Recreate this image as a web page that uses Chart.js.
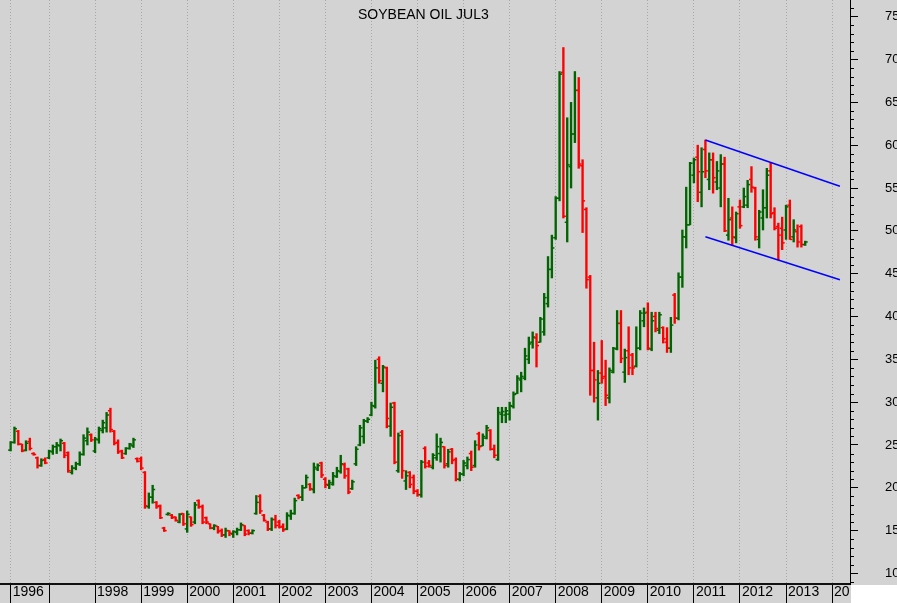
<!DOCTYPE html>
<html>
<head>
<meta charset="utf-8">
<script src="https://cdn.jsdelivr.net/npm/chart.js@4.4.0/dist/chart.umd.min.js"></script>
<style>
html,body{margin:0;padding:0;background:#ffffff;overflow:hidden}
#wrap{width:897px;height:603px;position:relative}
canvas{display:block}
</style>
</head>
<body>
<div id="wrap"><canvas id="c" width="897" height="603"></canvas></div>
<script>
// ---------------- data (monthly OHLC, Mar 1996 .. Jun 2013) ----------------
const chartTitle = 'SOYBEAN OIL JUL3';
const firstYear = 1996;
const firstMonth = 3;

const opens = [
  24.4,25.3,26.6,25.1,24.4,25.4,24.0,23.5,22.6,23.3,
  23.5,24.2,24.8,24.9,25.2,24.1,21.8,22.3,22.8,23.9,25.5,26.2,
  24.3,25.6,26.7,27.0,29.0,26.6,25.3,24.3,24.0,24.6,24.9,23.4,
  23.4,21.8,17.8,18.9,18.3,17.9,15.3,16.9,16.8,16.6,16.0,17.0,
  15.2,16.6,16.0,18.5,17.8,16.5,15.8,15.3,15.5,15.0,14.5,15.0,
  14.6,14.8,15.1,15.6,15.0,14.7,17.0,19.0,16.8,16.0,15.2,16.3,
  16.0,15.5,15.2,16.7,17.0,19.1,18.9,20.0,20.4,19.8,22.2,22.9,
  21.0,20.3,20.4,21.3,21.9,22.7,22.2,19.9,22.8,25.0,26.0,27.8,
  28.5,29.5,35.0,32.2,34.0,27.2,29.9,22.0,26.5,20.8,21.8,21.2,
  19.6,19.2,24.6,22.9,22.4,23.5,24.0,24.8,22.8,24.5,23.3,21.0,
  21.6,22.6,24.0,22.6,26.3,24.9,25.8,26.7,24.5,23.3,28.6,28.5,
  28.6,29.5,31.0,32.6,32.8,35.0,37.0,37.5,37.0,38.2,41.5,45.5,
  49.2,53.8,68.5,51.0,57.5,61.3,66.4,57.6,52.5,44.6,33.7,30.5,
  33.4,33.0,30.5,33.5,36.2,39.2,33.5,36.0,35.5,34.2,36.3,39.5,
  40.5,36.2,40.0,38.4,38.7,37.0,36.3,42.5,39.8,44.6,49.3,50.7,
  56.5,58.6,54.5,59.5,56.0,58.3,55.7,55.0,57.8,49.5,51.5,49.2,
  52.8,52.8,53.0,56.0,55.0,49.0,51.5,52.7,57.0,52.1,50.5,50.3,
  50.1,53.0,49.3,49.9,50.5,48.4
];
const highs = [
  25.4,27.1,26.7,25.1,25.5,25.8,24.1,23.6,23.4,23.5,
  24.4,25.0,25.3,25.7,25.3,24.2,22.6,23.0,24.2,26.2,27.0,26.3,
  25.9,27.1,27.9,28.8,29.3,26.7,25.6,24.4,24.7,25.2,25.8,23.5,
  23.6,21.9,19.4,20.3,18.4,18.0,15.4,17.1,16.9,16.6,17.0,17.0,
  17.3,16.6,18.3,18.6,18.0,16.6,15.8,15.7,15.5,15.2,15.3,15.0,
  15.0,15.3,15.9,15.6,15.1,15.1,19.1,19.2,16.9,16.1,16.5,16.8,
  16.2,15.8,17.1,17.4,18.8,19.2,20.3,21.5,20.5,22.9,22.8,23.0,
  21.2,20.9,21.8,22.4,23.8,22.9,22.3,20.9,24.8,27.3,28.0,28.2,
  30.0,34.9,35.3,34.3,34.1,29.9,30.0,26.4,26.7,22.0,21.9,21.5,
  19.8,23.2,24.8,23.2,24.0,26.3,25.8,24.8,24.5,24.6,23.5,21.8,
  23.2,23.6,24.3,25.5,26.5,26.3,27.3,26.8,25.0,29.4,29.4,29.4,
  30.0,31.2,33.1,33.5,36.3,37.6,38.2,38.0,39.9,42.7,47.0,49.5,
  54.0,68.6,71.4,63.2,65.0,68.6,67.9,58.3,52.7,44.8,37.0,33.7,
  37.2,34.9,34.0,36.4,40.7,40.7,36.2,38.8,35.7,38.8,40.7,41.0,
  41.6,40.5,40.5,40.5,38.8,38.7,39.9,42.7,45.1,50.1,55.1,58.0,
  58.5,60.0,59.7,60.6,59.1,59.1,58.1,58.9,58.6,53.8,52.8,52.2,
  53.6,55.0,55.9,57.5,55.1,52.4,54.8,57.3,57.9,52.7,50.9,51.6,
  53.0,53.6,51.3,50.7,50.7,48.8
];
const lows = [
  24.3,25.2,25.0,24.2,24.3,24.4,23.8,22.3,22.5,22.8,
  23.4,23.9,24.0,24.3,23.5,21.8,21.6,22.1,22.6,23.8,25.0,25.4,
  24.1,25.2,26.4,26.5,26.5,25.0,24.0,23.4,23.9,24.5,24.7,23.0,
  22.1,17.6,17.6,18.2,17.6,16.4,14.9,16.8,16.4,16.1,15.9,15.6,
  14.8,15.5,15.8,17.6,15.8,15.8,15.2,15.1,14.7,14.3,14.2,14.4,
  14.2,14.5,15.0,14.4,14.5,14.6,16.9,17.0,16.1,15.0,15.0,15.3,
  15.3,14.9,15.1,16.3,16.9,18.7,18.5,20.0,19.7,19.4,22.0,21.2,
  20.0,19.9,20.3,21.2,21.7,21.1,19.3,19.8,22.6,24.9,25.2,27.6,
  28.4,29.3,32.2,31.2,27.0,26.0,22.8,21.8,21.1,19.8,20.0,19.3,
  19.0,18.9,22.3,22.4,22.2,23.2,23.0,22.3,22.4,22.8,20.8,20.8,
  21.4,22.2,22.0,22.4,24.4,24.9,25.7,24.4,23.5,23.2,27.6,27.6,
  27.9,29.3,31.0,31.2,32.6,34.5,36.3,34.1,37.0,37.8,41.1,44.5,
  49.0,53.5,51.5,48.7,55.0,60.3,57.3,49.8,43.3,30.8,30.0,27.9,
  32.2,29.6,29.9,33.4,36.1,34.6,32.3,33.2,33.2,34.1,36.1,38.8,
  36.1,36.0,38.2,38.0,36.9,35.8,35.8,39.2,39.6,43.4,48.0,50.7,
  55.6,53.4,52.8,56.2,54.8,54.4,54.8,52.8,49.9,48.9,48.3,48.6,
  50.3,52.7,52.7,54.5,48.9,48.0,50.1,51.5,51.5,50.1,46.6,47.8,
  49.0,49.0,48.7,48.1,48.1,48.3
];
const closes = [
  25.3,26.9,25.1,24.3,25.2,24.6,23.9,22.6,23.2,22.9,
  24.3,24.8,25.0,25.5,23.8,22.0,22.3,22.8,23.9,25.8,26.5,25.6,
  25.7,26.9,27.6,28.5,26.8,25.2,24.2,23.5,24.6,25.1,25.6,23.1,
  22.3,17.9,18.9,19.8,17.8,16.5,15.0,17.0,16.5,16.2,16.9,15.8,
  16.9,15.7,18.0,17.8,16.0,16.0,15.3,15.6,14.9,14.5,15.0,14.7,
  14.9,15.1,15.7,14.6,14.7,15.0,18.3,17.3,16.2,15.2,16.3,15.6,
  15.4,15.1,16.8,17.0,18.5,18.9,20.0,21.2,19.9,22.4,22.6,21.5,
  20.4,20.6,21.4,22.0,22.8,21.4,19.5,20.7,24.5,27.0,27.8,28.0,
  29.6,34.0,32.5,34.1,28.1,29.4,23.0,26.1,22.0,21.4,20.4,19.6,
  19.2,23.0,22.5,22.6,23.8,24.8,25.3,22.6,24.2,23.2,21.0,21.6,
  22.9,23.3,22.4,25.0,24.8,26.0,27.0,24.5,23.8,28.8,28.9,29.0,
  29.6,30.9,32.8,33.0,35.4,36.8,37.6,36.6,39.7,42.2,45.5,48.0,
  53.8,68.3,51.7,57.7,61.3,66.4,57.8,53.5,44.3,33.7,32.6,32.2,
  32.8,30.8,33.7,36.3,39.2,35.1,35.2,34.0,34.0,36.3,40.4,40.4,
  36.3,39.5,38.6,40.2,37.4,36.3,39.0,39.8,44.6,49.3,50.7,57.9,
  58.3,56.9,56.9,57.0,58.3,56.2,57.0,57.8,50.0,51.3,49.3,52.0,
  50.6,54.0,55.4,55.1,49.3,52.2,52.7,56.5,52.0,50.3,49.5,48.6,
  52.8,49.0,50.1,48.7,48.4,48.7
];

// axis ticks
const xTickValues = [1996 + 2/12, 1997, 1998, 1999, 2000, 2001, 2002, 2003, 2004, 2005, 2006, 2007, 2008, 2009, 2010, 2011, 2012, 2013, 2014];
const xTickLabels = ['1996', '', '1998', '1999', '2000', '2001', '2002', '2003', '2004', '2005', '2006', '2007', '2008', '2009', '2010', '2011', '2012', '2013', '2014'];
const yTickValues = [10, 15, 20, 25, 30, 35, 40, 45, 50, 55, 60, 65, 70, 75];
const yTickLabels = ['10', '15', '20', '25', '30', '35', '40', '45', '50', '55', '60', '65', '70', '75'];

// channel lines (x in years, y in price)
const upperChannel = [{x: 2011.25, y: 60.6}, {x: 2014.17, y: 55.2}];
const lowerChannel = [{x: 2011.25, y: 49.3}, {x: 2014.17, y: 44.3}];

// ---------------- chart ----------------
const GREEN = '#006400';
const RED = '#ff0000';
const times = opens.map((_, i) => firstYear + (firstMonth - 1 + i) / 12);
const colorAt = i => (closes[i] >= opens[i] ? GREEN : RED);
const FONT = '"Liberation Sans", Arial, sans-serif';

const backgroundPlugin = {
  id: 'bgFill',
  beforeDraw(chart) {
    const ctx = chart.ctx, a = chart.chartArea;
    ctx.save();
    ctx.fillStyle = '#d3d3d3';
    ctx.fillRect(0, 0, chart.width, chart.height);
    ctx.fillStyle = '#ffffff';
    ctx.fillRect(a.right + 1, a.bottom + 1, chart.width - a.right - 1, chart.height - a.bottom - 1);
    ctx.restore();
  }
};

const minorTicksPlugin = {
  id: 'minorTicks',
  afterDraw(chart) {
    const s = chart.scales.y, ctx = chart.ctx;
    ctx.save();
    ctx.strokeStyle = '#000000';
    ctx.lineWidth = 1;
    ctx.beginPath();
    for (let v = Math.ceil(s.min); v <= Math.floor(s.max); v++) {
      if (v % 5 === 0) continue;
      const y = Math.round(s.getPixelForValue(v)) + 0.5;
      ctx.moveTo(s.left, y);
      ctx.lineTo(s.left + 4, y);
    }
    ctx.stroke();
    ctx.restore();
  }
};

const titlePlugin = {
  id: 'insideTitle',
  afterDraw(chart) {
    const ctx = chart.ctx;
    ctx.save();
    ctx.fillStyle = '#000000';
    ctx.font = '14px ' + FONT;
    ctx.textBaseline = 'middle';
    ctx.textAlign = 'left';
    ctx.fillText(chartTitle, 358, 15);
    ctx.restore();
  }
};

const clipXLabelsPlugin = {
  id: 'clipXLabels',
  afterLayout(chart) {
    const s = chart.scales.x;
    if (!s || s._clipPatched) return;
    const orig = s.drawLabels;
    s.drawLabels = function (area) {
      const ctx = this.ctx;
      ctx.save();
      ctx.beginPath();
      ctx.rect(0, this.top, chart.chartArea.right, this.bottom - this.top + 2);
      ctx.clip();
      orig.call(this, area);
      ctx.restore();
    };
    s._clipPatched = true;
  }
};

new Chart(document.getElementById('c'), {
  type: 'bar',
  data: {
    datasets: [
      {
        type: 'line',
        data: upperChannel,
        borderColor: '#0000ff',
        borderWidth: 1.5,
        pointRadius: 0,
        tension: 0,
        order: 0
      },
      {
        type: 'line',
        data: lowerChannel,
        borderColor: '#0000ff',
        borderWidth: 1.5,
        pointRadius: 0,
        tension: 0,
        order: 0
      },
      {
        type: 'line',
        showLine: false,
        data: times.map((t, i) => ({x: t, y: opens[i]})),
        pointStyle: 'dash',
        pointRotation: 180,
        pointRadius: 2.5,
        pointBorderWidth: 1.5,
        pointBorderColor: c => colorAt(c.dataIndex),
        order: 1
      },
      {
        type: 'line',
        showLine: false,
        data: times.map((t, i) => ({x: t, y: closes[i]})),
        pointStyle: 'dash',
        pointRotation: 0,
        pointRadius: 2.5,
        pointBorderWidth: 1.5,
        pointBorderColor: c => colorAt(c.dataIndex),
        order: 1
      },
      {
        type: 'bar',
        data: times.map((t, i) => ({x: t, y: [lows[i], highs[i]]})),
        backgroundColor: c => colorAt(c.dataIndex),
        borderWidth: 0,
        barThickness: 1.7,
        grouped: false,
        order: 2
      }
    ]
  },
  options: {
    responsive: false,
    maintainAspectRatio: false,
    animation: false,
    devicePixelRatio: 1,
    events: [],
    layout: {padding: 0, autoPadding: false},
    plugins: {
      legend: {display: false},
      tooltip: {enabled: false},
      title: {display: false}
    },
    scales: {
      x: {
        type: 'linear',
        position: 'bottom',
        offset: false,
        min: 1995.936,
        max: 2014.389,
        afterBuildTicks: s => { s.ticks = xTickValues.map(v => ({value: v})); },
        afterFit: s => { s.height = 19; s.paddingLeft = 0; s.paddingRight = 0; },
        grid: {
          display: true,
          offset: false,
          drawOnChartArea: true,
          color: '#a8a8a8',
          lineWidth: 1,
          drawTicks: true,
          tickLength: 19,
          tickColor: '#000000',
          tickWidth: 1,
          tickBorderDash: []
        },
        border: {display: true, color: '#111111', width: 2, dash: [1, 2]},
        ticks: {
          autoSkip: false,
          maxRotation: 0,
          minRotation: 0,
          align: 'start',
          labelOffset: 2,
          padding: -19,
          color: '#000000',
          font: {family: FONT, size: 14},
          callback: (v, i) => xTickLabels[i]
        }
      },
      y: {
        type: 'linear',
        position: 'right',
        offset: false,
        min: 8.77,
        max: 76.95,
        afterBuildTicks: s => { s.ticks = yTickValues.map(v => ({value: v})); },
        afterFit: s => { s.width = 47; s.paddingTop = 0; s.paddingBottom = 0; },
        grid: {
          drawOnChartArea: false,
          drawTicks: true,
          tickLength: 8,
          tickColor: '#000000',
          tickWidth: 1
        },
        border: {display: true, color: '#000000', width: 1},
        ticks: {
          autoSkip: false,
          padding: 27,
          color: '#000000',
          font: {family: FONT, size: 13},
          callback: (v, i) => yTickLabels[i]
        }
      }
    }
  },
  plugins: [backgroundPlugin, minorTicksPlugin, titlePlugin, clipXLabelsPlugin]
});
</script>
</body>
</html>
